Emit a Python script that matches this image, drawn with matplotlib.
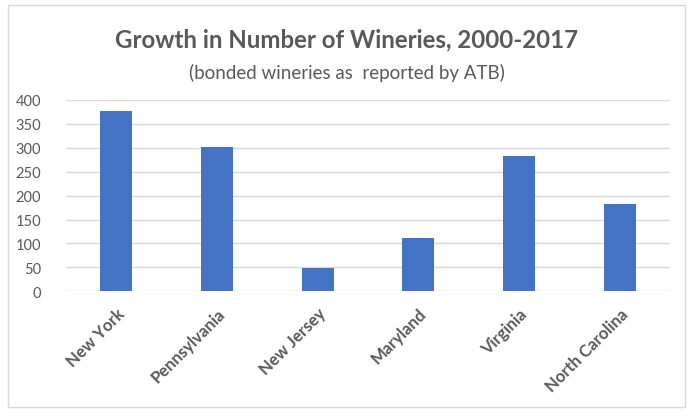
import matplotlib.pyplot as plt
from matplotlib.patches import Rectangle

states = ['New York', 'Pennsylvania', 'New Jersey', 'Maryland', 'Virginia', 'North Carolina']
growth = [377, 301, 48, 112, 282, 183]
yticks = [0, 50, 100, 150, 200, 250, 300, 350, 400]

plt.rcParams['font.family'] = ['Lato', 'DejaVu Sans']
text_col = '#595959'

fig = plt.figure(figsize=(6.93, 4.14), dpi=100)
ax = fig.add_axes([66 / 693, 1 - 292.3 / 414, 604 / 693, 191.3 / 414])

x = range(len(states))
ax.bar(x, growth, width=0.32, color='#4472C4', zorder=3)

ax.set_xlim(-0.5, len(states) - 0.5)
ax.set_ylim(0, 400)
ax.set_yticks(yticks)
ax.set_yticklabels([str(v) for v in yticks], color=text_col, fontsize=10.5)
ax.set_xticks(list(x))
ax.set_xticklabels(states, rotation=45, ha='right', rotation_mode='anchor',
                   color=text_col, fontsize=12, fontweight='bold')
ax.tick_params(axis='y', length=0, pad=18)
ax.tick_params(axis='x', length=0, pad=10)
ax.yaxis.grid(True, color='#D9D9D9', linewidth=1, zorder=0)
for s in ax.spines.values():
    s.set_visible(False)

fig.text(0.5, 1 - 40 / 414, 'Growth in Number of Wineries, 2000-2017',
         ha='center', va='center', fontsize=17.3, fontweight='bold', color=text_col)
fig.text(0.5, 1 - 73 / 414, '(bonded wineries as  reported by ATB)',
         ha='center', va='center', fontsize=13.5, color=text_col)

# thin outer chart border
fig.patches.append(Rectangle((8 / 693, 6 / 414), 677 / 693, 402 / 414,
                             transform=fig.transFigure, fill=False,
                             edgecolor='#D9D9D9', linewidth=1))

fig.savefig('out.png', dpi=100)
